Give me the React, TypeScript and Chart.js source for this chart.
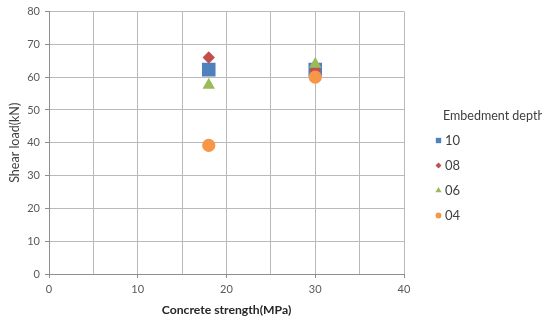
import React, { useEffect, useRef } from "react";
import { Chart, registerables } from "chart.js";
import { drawPoint } from "chart.js/helpers";

Chart.register(...registerables);

const seriesLabels = ["10", "08", "06", "04"];
const strengthX = [18, 30];
const depth10 = [62.3, 62.3];
const depth08 = [66, 62.2];
const depth06 = [57.6, 64];
const depth04 = [39.2, 60];
const seriesValues = [depth10, depth08, depth06, depth04];
const seriesColors = ["#4F81BD", "#C0504D", "#9BBB59", "#F79646"];
const seriesStyles = ["rect", "rectRot", "triangle", "circle"];
const seriesRadius = [9.6, 6.2, 7.2, 6.6];
const legendRadius = [3.8, 3, 3.6, 2.9];
const legendTitle = "Embedment depth";
const xTitle = "Concrete strength(MPa)";
const yTitle = "Shear load(kN)";

const FONT = "Lato, 'Open Sans', sans-serif";

const sideLegend = {
  id: "sideLegend",
  afterDraw(chart: any) {
    const ctx = chart.ctx as CanvasRenderingContext2D;
    ctx.save();
    ctx.font = `12.5px ${FONT}`;
    ctx.textBaseline = "middle";
    ctx.textAlign = "left";
    ctx.fillStyle = "#404040";
    ctx.fillText(legendTitle, 443, 116);
    chart.data.datasets.forEach((ds: any, i: number) => {
      const y = 140.5 + i * 25;
      ctx.fillStyle = ds.backgroundColor;
      drawPoint(
        ctx,
        { pointStyle: ds.pointStyle, radius: legendRadius[i], rotation: 0, borderWidth: 0 } as any,
        438.5,
        y
      );
      ctx.fillStyle = "#404040";
      ctx.font = `13px ${FONT}`;
      ctx.fillText(ds.label, 445, y);
    });
    ctx.restore();
  },
};

export default function App() {
  const ref = useRef<HTMLCanvasElement | null>(null);

  useEffect(() => {
    document.body.style.margin = "0";
    if (!ref.current) return;
    const datasets = seriesLabels.map((label, i) => ({
      label,
      data: strengthX.map((x, j) => ({ x, y: seriesValues[i][j] })),
      backgroundColor: seriesColors[i],
      borderColor: seriesColors[i],
      borderWidth: 0,
      pointStyle: seriesStyles[i],
      pointRadius: seriesRadius[i],
      pointHoverRadius: seriesRadius[i],
      order: seriesLabels.length - i,
    }));
    const chart = new Chart(ref.current, {
      type: "scatter",
      data: { datasets } as any,
      plugins: [sideLegend],
      options: {
        animation: false,
        responsive: true,
        maintainAspectRatio: false,
        layout: { padding: { top: 11, right: 138, left: 0, bottom: 0 } },
        plugins: {
          legend: { display: false },
          tooltip: { enabled: false },
        },
        scales: {
          x: {
            type: "linear",
            min: 0,
            max: 40,
            afterFit: (s: any) => {
              s.height = 49;
            },
            ticks: {
              stepSize: 5,
              padding: 5,
              color: "#595959",
              font: { family: FONT, size: 11 },
              autoSkip: false,
              maxRotation: 0,
              callback: (v: any) => (Number(v) % 10 === 0 ? String(v) : ""),
            },
            grid: {
              color: "#b9b9b9",
              tickLength: 4,
              tickColor: (c: any) => (c.tick && c.tick.value % 10 === 0 ? "#8e8e8e" : "rgba(0,0,0,0)"),
            },
            border: { color: "#8e8e8e", width: 1 },
            title: {
              display: true,
              text: xTitle,
              color: "#262626",
              font: { family: FONT, size: 12.2, weight: "bold" },
              padding: { top: 0, bottom: 5.5 },
            },
          },
          y: {
            type: "linear",
            min: 0,
            max: 80,
            afterFit: (s: any) => {
              s.width = 49;
            },
            ticks: {
              stepSize: 10,
              padding: 5,
              color: "#595959",
              font: { family: FONT, size: 11 },
            },
            grid: { color: "#b9b9b9", tickLength: 4, tickColor: "#8e8e8e" },
            border: { color: "#8e8e8e", width: 1 },
            title: {
              display: true,
              text: yTitle,
              color: "#404040",
              font: { family: FONT, size: 12.5 },
              padding: { top: 7, bottom: 0 },
            },
          },
        },
      } as any,
    });
    return () => chart.destroy();
  }, []);

  return (
    <div style={{ position: "relative", width: 542, height: 323 }}>
      <canvas ref={ref} />
    </div>
  );
}
